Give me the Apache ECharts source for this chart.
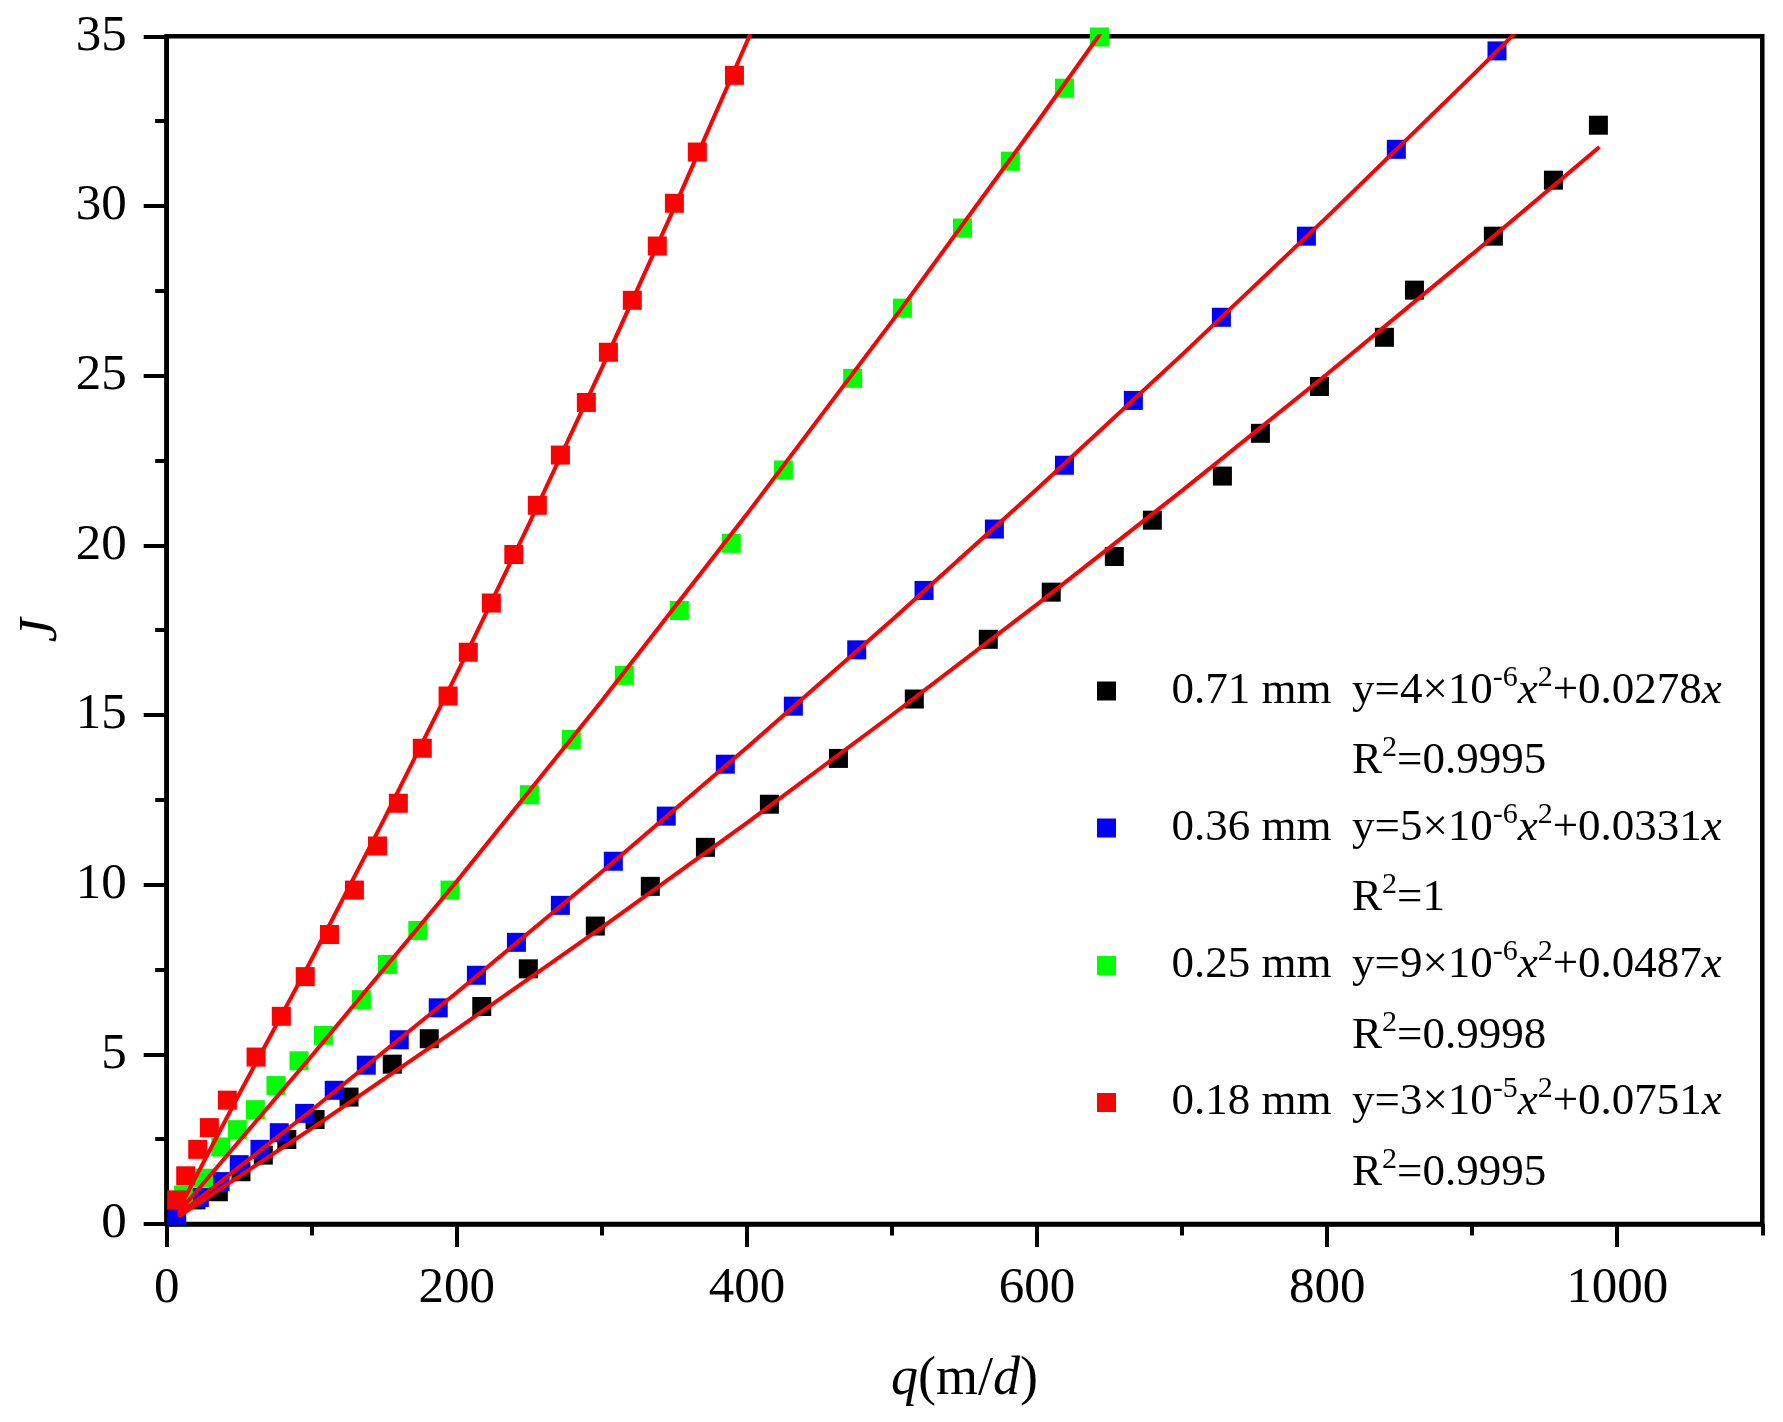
<!DOCTYPE html>
<html><head><meta charset="utf-8">
<script src="https://cdn.jsdelivr.net/npm/echarts@6/dist/echarts.min.js"></script>
<style>html,body{margin:0;padding:0;background:#fff}#chart{width:1783px;height:1422px}</style>
</head><body><div id="chart"></div>
<script>
const FONT = "'Liberation Serif','Times New Roman',serif";

// axis ticks
const xTickValues = [0, 200, 400, 600, 800, 1000];
const xMinorTickValues = [100, 300, 500, 700, 900, 1100];
const yTickValues = [0, 5, 10, 15, 20, 25, 30, 35];

// series names and legend equation parts
const seriesNames = ['0.71 mm', '0.36 mm', '0.25 mm', '0.18 mm'];
const seriesColors = ['#000000', '#0000ff', '#00ff00', '#ff0000'];
const eqCoefA = ['4', '5', '9', '3'];
const eqExp = ['-6', '-6', '-6', '-5'];
const eqCoefB = ['0.0278', '0.0331', '0.0487', '0.0751'];
const rSquared = ['0.9995', '1', '0.9998', '0.9995'];

// measured points q (m/d) and J
const q071 = [20.2, 35.6, 51.2, 66.6, 82.8, 102.3, 125.7, 155.5, 181.0, 217.2, 249.3, 295.5, 333.4, 371.4, 415.5, 463.1, 515.4, 566.4, 609.8, 653.3, 679.5, 727.8, 754.0, 794.7, 839.5, 860.2, 914.6, 956.0, 987.0];
const J071 = [0.71, 0.95, 1.54, 2.03, 2.49, 3.08, 3.74, 4.71, 5.46, 6.41, 7.52, 8.78, 9.95, 11.10, 12.37, 13.72, 15.47, 17.23, 18.62, 19.67, 20.74, 22.04, 23.30, 24.68, 26.13, 27.52, 29.11, 30.76, 32.38];

const q036 = [6.9, 22.5, 36.8, 50.0, 64.3, 77.6, 95.1, 115.5, 137.6, 160.3, 187.2, 213.5, 241.1, 271.4, 307.9, 344.4, 385.1, 432.0, 475.7, 522.1, 570.6, 618.9, 666.4, 727.1, 785.7, 847.7, 917.1];
const J036 = [0.26, 0.78, 1.25, 1.75, 2.20, 2.69, 3.26, 3.94, 4.68, 5.43, 6.37, 7.33, 8.30, 9.39, 10.69, 12.02, 13.55, 15.26, 16.92, 18.67, 20.48, 22.36, 24.27, 26.72, 29.11, 31.67, 34.57];

const q025 = [11.5, 25.5, 37.3, 48.7, 61.1, 75.3, 91.2, 108.0, 134.2, 152.1, 173.1, 195.3, 250.0, 278.9, 315.5, 353.4, 389.2, 425.1, 472.9, 507.2, 548.6, 581.6, 618.9, 643.0];
const J025 = [0.85, 1.35, 2.27, 2.78, 3.37, 4.08, 4.81, 5.56, 6.61, 7.65, 8.65, 9.84, 12.65, 14.28, 16.17, 18.08, 20.06, 22.22, 24.92, 26.99, 29.35, 31.32, 33.47, 34.98];

const q018 = [6.9, 13.1, 21.4, 29.4, 41.8, 61.6, 79.0, 95.5, 112.2, 129.4, 145.3, 159.7, 176.2, 194.0, 207.9, 223.8, 239.3, 255.5, 271.4, 289.3, 304.5, 321.0, 338.2, 350.0, 365.8, 391.4];
const J018 = [0.71, 1.42, 2.20, 2.84, 3.65, 4.92, 6.12, 7.29, 8.53, 9.84, 11.14, 12.40, 14.02, 15.56, 16.85, 18.30, 19.73, 21.18, 22.66, 24.21, 25.69, 27.22, 28.82, 30.08, 31.59, 33.85];

// fitted curves
const fitQ071 = [8, 100, 200, 300, 400, 500, 600, 700, 800, 900, 987.7];
const fitJ071 = [0.22, 2.82, 5.74, 8.74, 11.82, 15.00, 18.26, 21.61, 25.05, 28.58, 31.74];
const fitQ036 = [8, 100, 200, 300, 400, 500, 600, 700, 800, 900, 950];
const fitJ036 = [0.27, 3.36, 6.82, 10.38, 14.04, 17.80, 21.66, 25.62, 29.68, 33.84, 35.96];
const fitQ025 = [8, 100, 200, 300, 400, 500, 600, 660];
const fitJ025 = [0.33, 4.96, 10.10, 15.42, 20.92, 26.60, 32.46, 36.06];
const fitQ018 = [8, 50, 100, 150, 200, 250, 300, 350, 400, 420];
const fitJ018 = [0.40, 3.83, 7.81, 11.94, 16.22, 20.65, 25.23, 29.96, 34.84, 36.83];

const pointsQ = [q071, q036, q025, q018];
const pointsJ = [J071, J036, J025, J018];
const fitsQ = [fitQ071, fitQ036, fitQ025, fitQ018];
const fitsJ = [fitJ071, fitJ036, fitJ025, fitJ018];

const zip = (a, b) => a.map((v, i) => [v, b[i]]);

const series = [];
seriesNames.forEach((name, k) => {
  series.push({
    name: name, type: 'scatter', symbol: 'rect', symbolSize: 19,
    data: zip(pointsQ[k], pointsJ[k]),
    itemStyle: { color: seriesColors[k], opacity: 1 },
    emphasis: { disabled: true }, silent: true, z: 2
  });
});
seriesNames.forEach((name, k) => {
  series.push({
    name: 'fit ' + name, type: 'line', showSymbol: false, symbol: 'none',
    data: zip(fitsQ[k], fitsJ[k]),
    lineStyle: { color: '#ff0000', width: 4 },
    itemStyle: { color: '#ff0000' },
    clip: true, emphasis: { disabled: true }, silent: true, z: 3
  });
});

const L = 70.5;
const richLegend = {
  a: { fontFamily: FONT, fontSize: 45, color: '#000', width: 180.5, lineHeight: L },
  b: { fontFamily: FONT, fontSize: 45, color: '#000', lineHeight: L },
  i: { fontFamily: FONT, fontSize: 45, color: '#000', fontStyle: 'italic', lineHeight: L },
  s: { fontFamily: FONT, fontSize: 30, color: '#000', padding: [0, 0, 26, 0] }
};
const legendTops = [663, 800, 937.5, 1074.5];
const legends = seriesNames.map((name, k) => ({
  data: [name], orient: 'vertical', left: 1097, top: legendTops[k], padding: 0,
  itemGap: 0, itemWidth: 19, itemHeight: 19, icon: 'rect', selectedMode: false,
  textStyle: { fontFamily: FONT, fontSize: 45, color: '#000', padding: [L, 0, 0, 50.5], rich: richLegend },
  formatter: function (nm) {
    const i = seriesNames.indexOf(nm);
    return '{a|' + nm + '}{b|y=' + eqCoefA[i] + '×10}{s|' + eqExp[i] + '}{i|x}{s|2}{b|+' + eqCoefB[i] + '}{i|x}\n' +
      '{a| }{b|R}{s|2}{b|=' + rSquared[i] + '}';
  }
}));

const chart = echarts.init(document.getElementById('chart'), null, { renderer: 'canvas' });
chart.setOption({
  animation: false,
  backgroundColor: '#ffffff',
  grid: {
    left: 166.7, right: 20.7, top: 36.3, bottom: 198,
    containLabel: false, outerBoundsMode: 'none',
    show: true, borderColor: '#000', borderWidth: 4.5, backgroundColor: 'transparent'
  },
  legend: legends,
  xAxis: [{
    type: 'value', min: 0, max: 1100, position: 'bottom',
    name: '{i|q}{n|(m/}{i|d}{n|)}', nameLocation: 'middle', nameGap: 129, nameMoveOverlap: false,
    nameTextStyle: {
      rich: {
        i: { fontFamily: FONT, fontSize: 54, fontStyle: 'italic', color: '#000' },
        n: { fontFamily: FONT, fontSize: 54, color: '#000' }
      }
    },
    axisLine: { show: true, onZero: false, lineStyle: { color: '#000', width: 4.5 } },
    axisTick: { show: true, inside: false, length: 23, customValues: xTickValues, lineStyle: { color: '#000', width: 4 } },
    axisLabel: { show: true, customValues: xTickValues, fontFamily: FONT, fontSize: 51, color: '#000', margin: 39,
      formatter: v => String(v) },
    splitLine: { show: false }, minorTick: { show: false }
  }, {
    type: 'value', min: 0, max: 1100, position: 'bottom',
    axisLine: { show: false, onZero: false },
    axisTick: { show: true, inside: false, length: 11.5, customValues: xMinorTickValues, lineStyle: { color: '#000', width: 4 } },
    axisLabel: { show: false }, splitLine: { show: false }
  }],
  yAxis: {
    type: 'value', min: 0, max: 35, interval: 5,
    name: 'J', nameLocation: 'middle', nameGap: 98, nameRotate: 90, nameMoveOverlap: false,
    nameTextStyle: { fontFamily: FONT, fontSize: 54, fontStyle: 'italic', color: '#000' },
    axisLine: { show: true, onZero: false, lineStyle: { color: '#000', width: 4.5 } },
    axisTick: { show: true, inside: false, length: 23, customValues: yTickValues, lineStyle: { color: '#000', width: 4 } },
    minorTick: { show: true, splitNumber: 2, length: 11.5, lineStyle: { color: '#000', width: 4 } },
    axisLabel: { show: true, customValues: yTickValues, fontFamily: FONT, fontSize: 51, color: '#000', margin: 40,
      formatter: v => String(v) },
    splitLine: { show: false }, minorSplitLine: { show: false }
  },
  series: series
});
</script>
</body></html>
